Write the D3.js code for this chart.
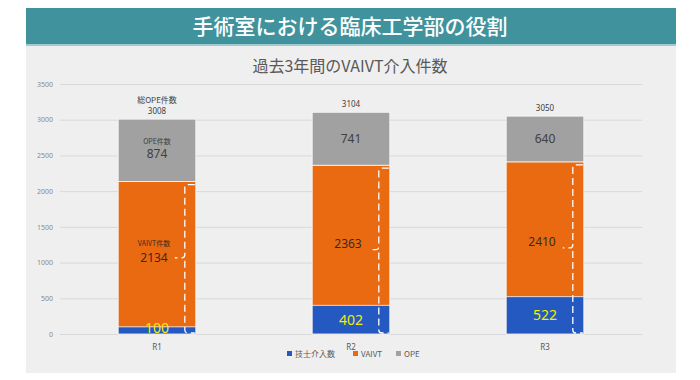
<!DOCTYPE html>
<html><head><meta charset="utf-8">
<script src="https://cdn.jsdelivr.net/npm/d3@7"></script>
<style>
html,body{margin:0;padding:0;background:#fff;}
svg{display:block;}
text{font-family:"Noto Sans CJK JP","Noto Sans",sans-serif;}
</style></head>
<body>
<svg id="c" width="700" height="380"></svg>
<script>
const categories = ["R1", "R2", "R3"];
const techValues = [100, 402, 522];      // 技士介入数
const vaivtValues = [2134, 2363, 2410];  // VAIVT
const opeValues = [874, 741, 640];       // OPE
const totalValues = [3008, 3104, 3050];  // 総OPE件数
const yTicks = [0, 500, 1000, 1500, 2000, 2500, 3000, 3500];
const legendLabels = ["技士介入数", "VAIVT", "OPE"];
const colors = ["#2459c2", "#ea6a12", "#a1a1a1"];

const svg = d3.select("#c");

// banner
svg.append("rect").attr("x", 26).attr("y", 8).attr("width", 650).attr("height", 37).attr("fill", "#40939c");
svg.append("rect").attr("x", 26).attr("y", 44).attr("width", 650).attr("height", 2).attr("fill", "#9fcbd0");
svg.append("text").attr("x", 350).attr("y", 34).attr("text-anchor", "middle")
  .attr("fill", "#fff").attr("font-size", 21).attr("font-weight", 500)
  .text("手術室における臨床工学部の役割");

// panel
svg.append("rect").attr("x", 26).attr("y", 46).attr("width", 650).attr("height", 327).attr("fill", "#efefef");

svg.append("text").attr("x", 350).attr("y", 72).attr("text-anchor", "middle")
  .attr("fill", "#595959").attr("font-size", 16)
  .text("過去3年間のVAIVT介入件数");

const x = d3.scaleBand().domain(categories).range([60, 642]).paddingInner(0.6).paddingOuter(0.3);
const y = d3.scaleLinear().domain([0, 3500]).range([334, 84]);

// grid
const yAxis = d3.axisLeft(y).tickValues(yTicks).tickSize(-(642 - 60)).tickFormat(d3.format("d"));
const ga = svg.append("g").attr("transform", "translate(60,0)").call(yAxis);
ga.select(".domain").remove();
ga.selectAll(".tick line").attr("stroke", "#d9d9d9").attr("stroke-width", 1);
ga.selectAll(".tick text").attr("fill", "#8a8a8a").attr("font-size", 7).attr("x", -7)
  .style("font-family", "'Noto Sans',sans-serif");

const xAxis = d3.axisBottom(x).tickSize(0);
const gx = svg.append("g").attr("transform", "translate(0,340)").call(xAxis);
gx.select(".domain").remove();
gx.selectAll(".tick text").attr("fill", "#595959").attr("font-size", 8).attr("dy", "0.9em")
  .style("font-family", "'Noto Sans',sans-serif");

const bw = x.bandwidth();
const rows = categories.map((c, i) => ({c, tech: techValues[i], vaivt: vaivtValues[i], ope: opeValues[i], total: totalValues[i], i}));

const g = svg.append("g");
// orange (VAIVT, from 0)
g.selectAll("rect.v").data(rows).join("rect").attr("class", "v")
  .attr("x", d => x(d.c)).attr("width", bw)
  .attr("y", d => y(d.vaivt)).attr("height", d => y(0) - y(d.vaivt))
  .attr("fill", colors[1]).attr("stroke", "#f7f7f7").attr("stroke-width", 0.8);
// gray (OPE)
g.selectAll("rect.o").data(rows).join("rect").attr("class", "o")
  .attr("x", d => x(d.c)).attr("width", bw)
  .attr("y", d => y(d.vaivt + d.ope)).attr("height", d => y(d.vaivt) - y(d.vaivt + d.ope))
  .attr("fill", colors[2]).attr("stroke", "#f7f7f7").attr("stroke-width", 0.8);
// blue (tech)
g.selectAll("rect.t").data(rows).join("rect").attr("class", "t")
  .attr("x", d => x(d.c)).attr("width", bw)
  .attr("y", d => y(d.tech)).attr("height", d => y(0) - y(d.tech))
  .attr("fill", colors[0]).attr("stroke", "#f7f7f7").attr("stroke-width", 0.8);

// brackets
rows.forEach(d => {
  const xd = x(d.c) + bw - 11, xr = x(d.c) + bw - 1;
  const yt = y(d.vaivt) + 3, yb = y(0) - 1, ym = y(d.vaivt / 2);
  const p = d3.path();
  p.moveTo(xr, yt); p.lineTo(xd + 3, yt); p.quadraticCurveTo(xd, yt, xd, yt + 3);
  p.lineTo(xd, ym - 3); p.quadraticCurveTo(xd, ym, xd - 3, ym); p.lineTo(xd - 10, ym);
  p.moveTo(xd, ym + 3); p.lineTo(xd, yb - 3); p.quadraticCurveTo(xd, yb, xd + 3, yb); p.lineTo(xr, yb);
  g.append("path").attr("d", p.toString()).attr("fill", "none")
    .attr("stroke", "#fff").attr("stroke-width", 1.3).attr("stroke-dasharray", "7,4");
});

const cx = d => x(d.c) + bw / 2;
// top totals
svg.selectAll("text.tot").data(rows).join("text").attr("class", "tot")
  .attr("x", cx).attr("y", d => y(d.total) - 5).attr("text-anchor", "middle")
  .attr("fill", "#404040").attr("font-size", 8).style("font-family", "'Noto Sans',sans-serif")
  .text(d => d3.format("d")(d.total));
svg.append("text").attr("x", cx(rows[0])).attr("y", y(rows[0].total) - 16).attr("text-anchor", "middle")
  .attr("fill", "#404040").attr("font-size", 8).text("総OPE件数");

// gray labels
svg.selectAll("text.ol").data(rows).join("text").attr("class", "ol")
  .attr("x", cx).attr("y", d => y(d.vaivt + d.ope / 2) + (d.i === 0 ? 8 : 4)).attr("text-anchor", "middle")
  .attr("fill", "#404040").attr("font-size", 12).style("font-family", "'Noto Sans',sans-serif")
  .text(d => d.ope);
svg.append("text").attr("x", cx(rows[0])).attr("y", y(rows[0].vaivt + rows[0].ope / 2) - 6).attr("text-anchor", "middle")
  .attr("fill", "#404040").attr("font-size", 7).text("OPE件数");

// orange labels
svg.selectAll("text.vl").data(rows).join("text").attr("class", "vl")
  .attr("x", d => cx(d) - 3).attr("y", d => y(d.vaivt / 2) + (d.i === 0 ? 0 : -6) + 4).attr("text-anchor", "middle")
  .attr("fill", "#3a2a1e").attr("font-size", 12).style("font-family", "'Noto Sans',sans-serif")
  .text(d => d.vaivt);
svg.append("text").attr("x", cx(rows[0]) - 3).attr("y", y(rows[0].vaivt / 2) - 12).attr("text-anchor", "middle")
  .attr("fill", "#3a2a1e").attr("font-size", 7).text("VAIVT件数");

// blue labels
svg.selectAll("text.tl").data(rows).join("text").attr("class", "tl")
  .attr("x", cx).attr("y", d => d.i === 0 ? y(0) - 1 : y(d.tech / 2) + 5).attr("text-anchor", "middle")
  .attr("fill", "#f5ec00").attr("font-size", 14).style("font-family", "'Noto Sans',sans-serif")
  .text(d => d.tech);

// legend
const lg = svg.append("g").attr("transform", "translate(287,356)");
const lx = [0, 66, 109];
legendLabels.forEach((l, i) => {
  lg.append("rect").attr("x", lx[i]).attr("y", -5).attr("width", 5).attr("height", 5).attr("fill", colors[i]);
  lg.append("text").attr("x", lx[i] + 8).attr("y", 0.5).attr("fill", "#595959").attr("font-size", 8).text(l);
});
</script>
</body></html>
